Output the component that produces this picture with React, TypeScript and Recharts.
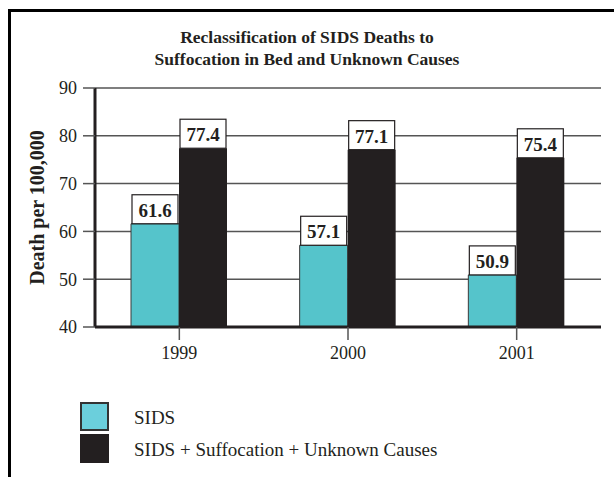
import { BarChart, Bar, XAxis, YAxis, CartesianGrid, LabelList } from 'recharts';

const years = ['1999', '2000', '2001'];
const sids = [61.6, 57.1, 50.9];
const sidsPlus = [77.4, 77.1, 75.4];
const yTicks = [40, 50, 60, 70, 80, 90];
const legendItems = ['SIDS', 'SIDS + Suffocation + Unknown Causes'];

const data = years.map((year, i) => ({ year, sids: sids[i], sidsPlus: sidsPlus[i] }));

const FONT = '"Liberation Serif", "Times New Roman", serif';
const INK = '#231f20';
const CYAN = '#55c4cb';
const GRID = '#555555';

// white boxed value sitting right on top of each bar
function BoxLabel(props: any) {
  const { x, y, width, value } = props;
  const w = 46;
  const h = 29;
  const cx = x + width / 2;
  return (
    <g>
      <rect x={cx - w / 2} y={y - h} width={w} height={h} fill="#fff" stroke={INK} strokeWidth={1.2} />
      <text
        x={cx}
        y={y - h / 2 + 1}
        textAnchor="middle"
        dominantBaseline="central"
        fontFamily={FONT}
        fontWeight="bold"
        fontSize={19}
        fill={INK}
      >
        {value}
      </text>
    </g>
  );
}

export default function App() {
  const tickStyle = { fontFamily: FONT, fontSize: 18, fill: INK };
  return (
    <div style={{ position: 'absolute', left: 0, top: 0, width: 614, height: 477, background: '#fff', overflow: 'hidden' }}>
      {/* frame */}
      <div style={{ position: 'absolute', left: 8, top: 9, width: 3, height: 480, background: '#000' }} />
      <div style={{ position: 'absolute', left: 8, top: 9, width: 610, height: 3, background: '#000' }} />

      <div
        style={{
          position: 'absolute',
          top: 26,
          left: 0,
          width: 614,
          textAlign: 'center',
          fontFamily: FONT,
          fontWeight: 'bold',
          fontSize: 17.5,
          lineHeight: '22px',
          color: INK,
        }}
      >
        Reclassification of SIDS Deaths to
        <br />
        Suffocation in Bed and Unknown Causes
      </div>

      <div style={{ position: 'absolute', left: 0, top: 0 }}>
        <BarChart width={614} height={370} data={data} margin={{ top: 88, right: 13, left: 0, bottom: 13 }} barGap={0}>
          <CartesianGrid vertical={false} stroke={GRID} strokeWidth={1.5} />
          <XAxis
            dataKey="year"
            height={30}
            tickSize={13}
            tickMargin={6}
            axisLine={{ stroke: INK, strokeWidth: 3 }}
            tickLine={{ stroke: GRID, strokeWidth: 1.5 }}
            tick={tickStyle}
          />
          <YAxis
            domain={[40, 90]}
            ticks={yTicks}
            width={95}
            tickSize={12}
            tickMargin={6}
            allowDataOverflow
            axisLine={{ stroke: INK, strokeWidth: 3 }}
            tickLine={{ stroke: GRID, strokeWidth: 1.5 }}
            tick={tickStyle}
            label={{
              value: 'Death per 100,000',
              angle: -90,
              position: 'insideLeft',
              offset: 37,
              style: { textAnchor: 'middle' },
              fontFamily: FONT,
              fontWeight: 'bold',
              fontSize: 20,
              fill: INK,
            }}
          />
          <Bar dataKey="sids" fill={CYAN} stroke="#3a3a3a" strokeWidth={1} barSize={48} isAnimationActive={false}>
            <LabelList dataKey="sids" content={BoxLabel} />
          </Bar>
          <Bar dataKey="sidsPlus" fill={INK} barSize={48} isAnimationActive={false}>
            <LabelList dataKey="sidsPlus" content={BoxLabel} />
          </Bar>
        </BarChart>
      </div>

      {/* legend */}
      <div style={{ position: 'absolute', left: 80, top: 402, fontFamily: FONT, fontSize: 19, color: INK }}>
        {legendItems.map((label, i) => (
          <div key={label} style={{ display: 'flex', alignItems: 'center', height: 29, marginBottom: 3 }}>
            <span
              style={{
                display: 'inline-block',
                width: 29,
                height: 29,
                boxSizing: 'border-box',
                background: i === 0 ? '#6bcfdc' : INK,
                border: i === 0 ? '2px solid #333' : 'none',
              }}
            />
            <span style={{ marginLeft: 25, position: 'relative', top: 1 }}>{label}</span>
          </div>
        ))}
      </div>
    </div>
  );
}
